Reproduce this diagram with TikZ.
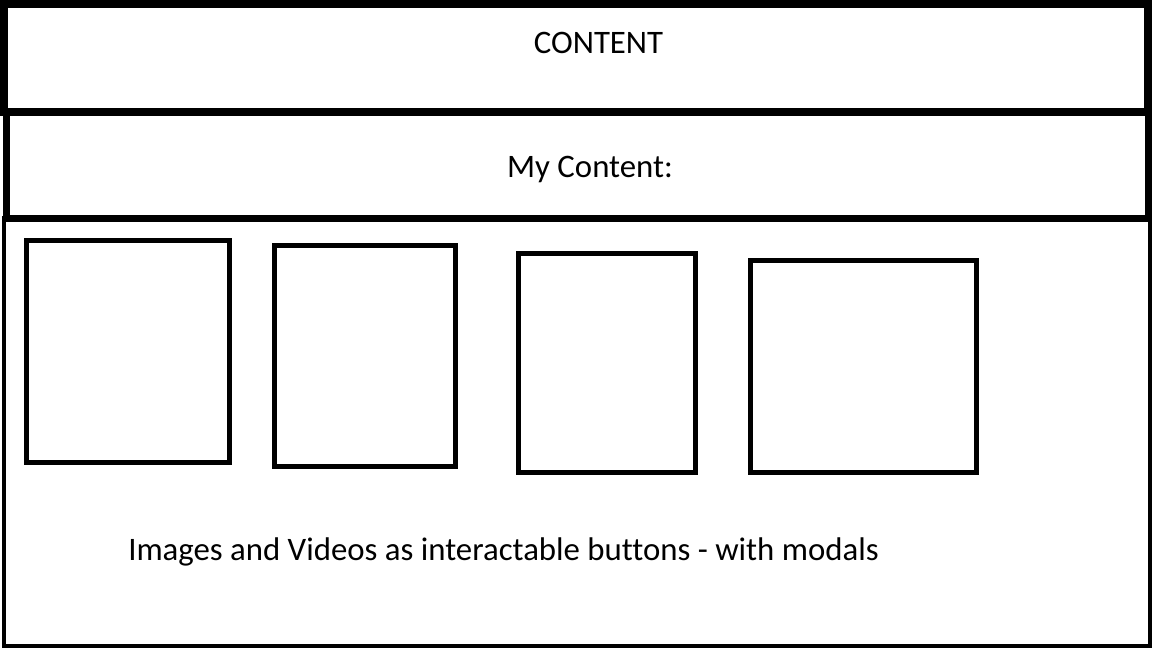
\documentclass[tikz,border=0pt]{standalone}
\usepackage{fontspec}
\setmainfont{Carlito}[Ligatures=NoCommon]
\begin{document}
\begin{tikzpicture}[x=0.75pt,y=-0.75pt,
  frame/.style={draw=black,line join=miter},
  tile/.style={draw=black,line width=3.75pt},
  label/.style={inner sep=0pt,font=\fontsize{24.6pt}{29pt}\selectfont}]
  \useasboundingbox[fill=white] (0,0) rectangle (1152,648);
  % page frame and header bands
  \draw[frame,line width=3pt] (4,218.5) rectangle (1150,646);
  \draw[frame,line width=5.25pt] (6.5,112) rectangle (1148.5,218.5);
  \draw[frame,line width=6pt] (4,4) rectangle (1148,112);
  % media tiles
  \draw[tile] (26.5,240.5) rectangle (229.5,462.5);
  \draw[tile] (274.5,245.5) rectangle (455.5,466.5);
  \draw[tile] (518.5,253.5) rectangle (695,472.5);
  \draw[tile] (750.5,260.5) rectangle (976.5,472.5);
  % texts
  \node[label,anchor=base] (title) at (598.5,54) {CONTENT};
  \node[label,anchor=base] (sub) at (590,178) {My Content:};
  \node[label,anchor=base west] (note) at (128,560) {Images and Videos as interactable buttons - with modals};
\end{tikzpicture}
\end{document}
